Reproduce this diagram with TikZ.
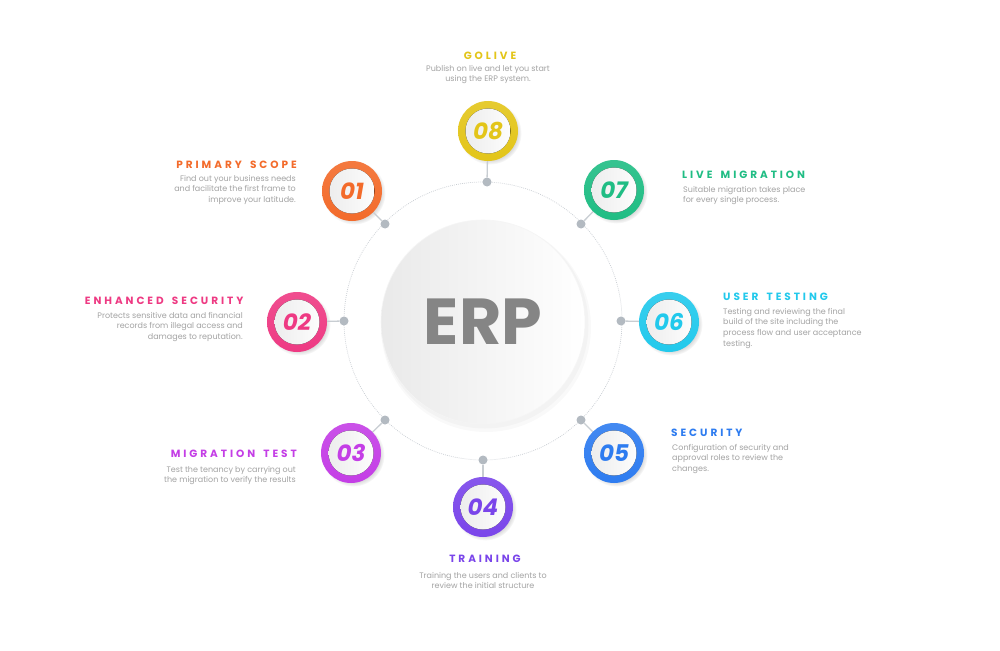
\documentclass[tikz,border=0pt]{standalone}
\usepackage{fontspec}
\setmainfont{Poppins}
\newfontfamily\descfont{Poppins}
\newfontfamily\titlefont[LetterSpace=28, WordSpace=1.6]{Poppins}
\usetikzlibrary{shadows}
\definecolor{cA}{HTML}{F36B2B}
\definecolor{cB}{HTML}{EE3A83}
\definecolor{cC}{HTML}{C43EE6}
\definecolor{cD}{HTML}{7A45EA}
\definecolor{cE}{HTML}{2E7CF0}
\definecolor{cF}{HTML}{22C9EC}
\definecolor{cG}{HTML}{20BD84}
\definecolor{cH}{HTML}{E3C519}
\definecolor{descgray}{HTML}{A3A3A3}
\definecolor{erpgray}{HTML}{858585}
\definecolor{linegray}{HTML}{C8CDD2}
\definecolor{dotgray}{HTML}{B3BAC1}
\begin{document}
\begin{tikzpicture}[x=1pt,y=-1pt,
  ring/.style={circle, minimum size=60pt, inner sep=0pt,
    top color=#1!90!white, bottom color=#1, text=#1,
    font=\bfseries\itshape\fontsize{23}{23}\selectfont,
    circular drop shadow={shadow xshift=2pt, shadow yshift=-2pt, opacity=0.14, fill=black, shadow scale=1.05},
    path picture={\fill[left color=gray!16, right color=white] (path picture bounding box.center) circle (22.5pt);}},
  dotn/.style={circle, fill=dotgray, minimum size=9pt, inner sep=0pt},
  conn/.style={draw=linegray, line width=1.3pt},
  tit/.style={font=\titlefont\bfseries\fontsize{10.5}{12}\selectfont, inner sep=0pt, text=#1},
  dsc/.style={font=\descfont\fontsize{8}{10.6}\selectfont, text=descgray, inner sep=0pt}
]
\useasboundingbox (0,0) rectangle (1000,650);
\fill[white] (0,0) rectangle (1000,650);

% dotted orbit
\coordinate (ctr) at (483,321);
\draw[linegray, line width=0.7pt, dash pattern=on 0.8pt off 1.2pt] (ctr) circle (139);

% dots on orbit
\node[dotn] (d8) at (487,182) {};
\node[dotn] (d1) at (385,224) {};
\node[dotn] (d7) at (581,224) {};
\node[dotn] (d2) at (344,321) {};
\node[dotn] (d6) at (621,321) {};
\node[dotn] (d3) at (385,420) {};
\node[dotn] (d5) at (581,420) {};
\node[dotn] (d4) at (483,460) {};

% ERP central circle
\fill[black, opacity=0.025] (486,327) circle (105);
\fill[black, opacity=0.025] (485,325) circle (103.5);
\node[circle, minimum size=204pt, inner sep=0pt, left color=gray!17, right color=white,
  draw=gray!8, line width=0.6pt,
  text=erpgray, font=\bfseries\fontsize{65}{65}\selectfont] (erp) at (483,322) {ERP};

% numbered rings
\node[ring=cH] (n8) at (488,131) {08};
\node[ring=cA] (n1) at (352,191) {01};
\node[ring=cG] (n7) at (614,190) {07};
\node[ring=cB] (n2) at (297,322) {02};
\node[ring=cF] (n6) at (669,322) {06};
\node[ring=cC] (n3) at (351,453) {03};
\node[ring=cE] (n5) at (614,453) {05};
\node[ring=cD] (n4) at (483,507) {04};

% connectors
\draw[conn] (n8) -- (d8);
\draw[conn] (n1) -- (d1);
\draw[conn] (n7) -- (d7);
\draw[conn] (n2) -- (d2);
\draw[conn] (n6) -- (d6);
\draw[conn] (n3) -- (d3);
\draw[conn] (n5) -- (d5);
\draw[conn] (n4) -- (d4);

% texts
\node[tit=cH, anchor=base] (t8) at (490,59.5) {GOLIVE};
\node[dsc, anchor=north, align=center] (s8) at (488,65) {Publish on live and let you start\\using the ERP system.};

\node[tit=cA, anchor=base east] (t1) at (297,168.5) {PRIMARY SCOPE};
\node[dsc, anchor=north east, align=right] (s1) at (296,175) {Find out your business needs\\and facilitate the first frame to\\improve your latitude.};

\node[tit=cG, anchor=base west] (t7) at (682,178.5) {LIVE MIGRATION};
\node[dsc, anchor=north west, align=left] (s7) at (683,186) {Suitable migration takes place\\for every single process.};

\node[tit=cB, anchor=base east] (t2) at (243.5,304.5) {ENHANCED SECURITY};
\node[dsc, anchor=north east, align=right] (s2) at (243,312) {Protects sensitive data and financial\\records from illegal access and\\damages to reputation.};

\node[tit=cF, anchor=base west] (t6) at (723,300.5) {USER TESTING};
\node[dsc, anchor=north west, align=left] (s6) at (723,308) {Testing and reviewing the final\\build of the site including the\\process flow and user acceptance\\testing.};

\node[tit=cC, anchor=base east] (t3) at (297,457.5) {MIGRATION TEST};
\node[dsc, anchor=north east, align=right] (s3) at (296,466) {Test the tenancy by carrying out\\the migration to verify the results};

\node[tit=cE, anchor=base west] (t5) at (671,436.5) {SECURITY};
\node[dsc, anchor=north west, align=left] (s5) at (672,444) {Configuration of security and\\approval roles to review the\\changes.};

\node[tit=cD, anchor=base] (t4) at (485,562.5) {TRAINING};
\node[dsc, anchor=north, align=center] (s4) at (483,572) {Training the users and clients to\\review the initial structure};
\end{tikzpicture}
\end{document}
